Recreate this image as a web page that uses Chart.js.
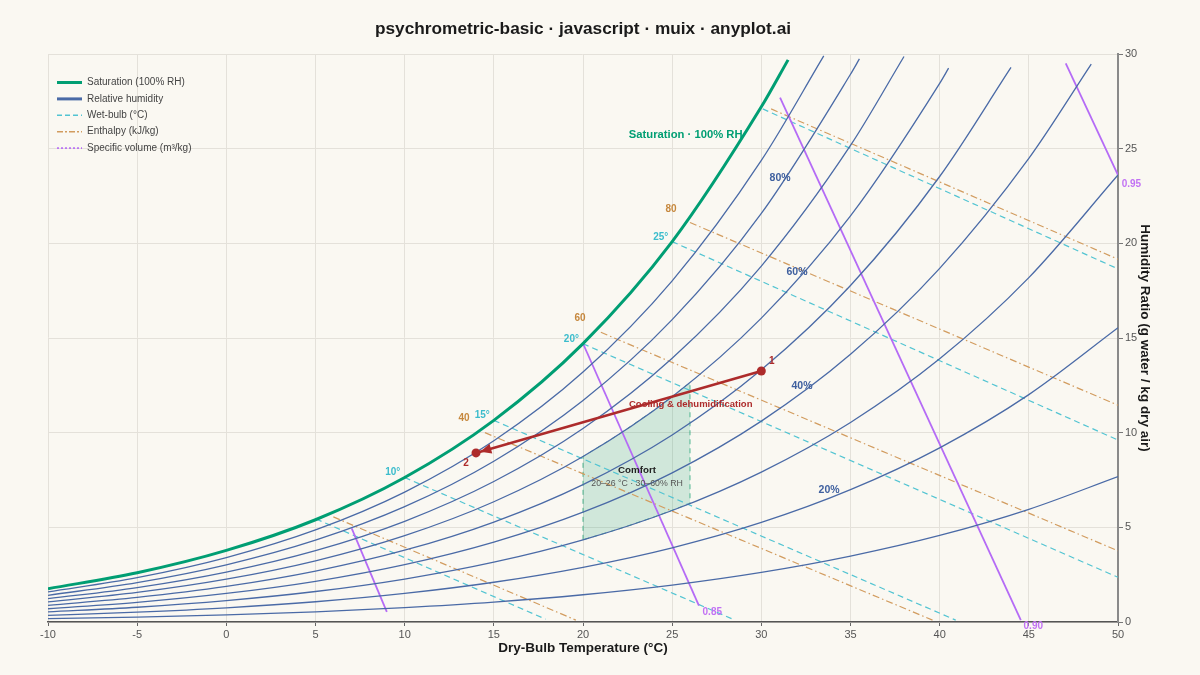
<!DOCTYPE html>
<html>
<head>
<meta charset="utf-8">
<title>psychrometric-basic</title>
<script src="https://cdn.jsdelivr.net/npm/chart.js@4.4.1/dist/chart.umd.min.js"></script>
<style>
  html, body { margin: 0; padding: 0; background: #faf8f2; }
  #wrap { width: 1200px; height: 675px; }
</style>
</head>
<body>
<div id="wrap"><canvas id="psyChart" width="1200" height="675"></canvas></div>
<script>
// dry-bulb (°C) vs humidity ratio (g/kg)
const satCurve = [[-10,1.76],[-5,2.60],[0,3.78],[5,5.40],[10,7.63],[15,10.65],[20,14.70],[25,20.09],[30,27.21],[31.5,29.69]];
const rh90 = [[-10,1.59],[-5,2.34],[0,3.40],[5,4.86],[10,6.86],[15,9.57],[20,13.20],[25,18.02],[30,24.38],[33.5,29.90]];
const rh80 = [[-10,1.41],[-5,2.08],[0,3.02],[5,4.32],[10,6.09],[15,8.49],[20,11.70],[25,15.97],[30,21.58],[35,28.93],[35.5,29.74]];
const rh70 = [[-10,1.23],[-5,1.82],[0,2.64],[5,3.77],[10,5.32],[15,7.42],[20,10.22],[25,13.93],[30,18.80],[35,25.17],[38,29.87]];
const rh60 = [[-10,1.06],[-5,1.56],[0,2.26],[5,3.23],[10,4.56],[15,6.35],[20,8.74],[25,11.90],[30,16.05],[35,21.45],[40,28.45],[40.5,29.25]];
const rh50 = [[-10,0.88],[-5,1.30],[0,1.88],[5,2.69],[10,3.79],[15,5.28],[20,7.26],[25,9.88],[30,13.32],[35,17.77],[40,23.53],[44,29.29]];
const rh40 = [[-10,0.70],[-5,1.04],[0,1.51],[5,2.15],[10,3.03],[15,4.22],[20,5.80],[25,7.88],[30,10.61],[35,14.14],[40,18.68],[45,24.49],[48.5,29.47]];
const rh30 = [[-10,0.53],[-5,0.78],[0,1.13],[5,1.61],[10,2.27],[15,3.16],[20,4.34],[25,5.89],[30,7.92],[35,10.54],[40,13.90],[45,18.19],[50,23.61]];
const rh20 = [[-10,0.35],[-5,0.52],[0,0.75],[5,1.07],[10,1.51],[15,2.10],[20,2.89],[25,3.92],[30,5.26],[35,6.99],[40,9.20],[45,12.01],[50,15.54]];
const rh10 = [[-10,0.18],[-5,0.26],[0,0.38],[5,0.54],[10,0.76],[15,1.05],[20,1.44],[25,1.95],[30,2.62],[35,3.48],[40,4.57],[45,5.95],[50,7.68]];

const wetBulbLines = [
  [[5.03,5.44],[17.9,0.15]],
  [[10,7.63],[28.4,0.15]],
  [[15,10.65],[40.9,0.1]],
  [[20,14.70],[50,2.36]],
  [[25,20.09],[50,9.61]],
  [[30.08,27.1],[50,18.65]]
];
const enthalpyLines = [
  [[6.0,5.55],[19.6,0.1]],
  [[14.5,10.0],[39.6,0.1]],
  [[21.0,15.3],[50,3.76]],
  [[26.0,21.1],[50,11.45]],
  [[30.55,27.1],[50,19.16]]
];
const volumeLines = [
  [[7.03,4.95],[9.0,0.54]],
  [[20.02,14.67],[26.5,0.86]],
  [[31.05,27.7],[44.55,0.1]],
  [[47.07,29.5],[50,23.6]]
];
const comfortZone = [[20,4.34],[20,8.74],[22,9.90],[24,11.20],[26,12.64],[26,6.26],[24,5.55],[22,4.91],[20,4.34]];
const processPts = [[30,13.26],[14,8.93]];

const xTicks = [-10, 50, 5];
const yTicks = [0, 30, 5];

const C = {
  bg: '#faf8f2',
  sat: '#009e73',
  rh: '#4a6aa6',
  wb: '#52c4d2',
  h: '#d29c5f',
  v: '#b56bf6',
  proc: '#ad2b2b',
  grid: '#e4e1da'
};
const FONT = "'Liberation Sans', Arial, Helvetica, sans-serif";
Chart.defaults.font.family = FONT;

// text annotations, placed in data units
const notes = [
  ['Saturation · 100% RH', 25.76, 25.71, C.sat, 'bold 11.25px'],
  ['80%', 31.05, 23.47, '#3f609f', 'bold 10.5px'],
  ['60%', 32.0, 18.49, '#3f609f', 'bold 10.5px'],
  ['40%', 32.28, 12.47, '#3f609f', 'bold 10.5px'],
  ['20%', 33.8, 6.97, '#3f609f', 'bold 10.5px'],
  ['10°', 9.33, 7.89, '#3bbccc', 'bold 10px'],
  ['15°', 14.35, 10.90, '#3bbccc', 'bold 10px'],
  ['20°', 19.35, 14.95, '#3bbccc', 'bold 10px'],
  ['25°', 24.36, 20.30, '#3bbccc', 'bold 10px'],
  ['40', 13.33, 10.74, '#c6883e', 'bold 10px'],
  ['60', 19.83, 16.02, '#c6883e', 'bold 10px'],
  ['80', 24.94, 21.78, '#c6883e', 'bold 10px'],
  ['0.85', 27.25, 0.50, '#c272f4', 'bold 10px'],
  ['0.90', 45.25, -0.25, '#c272f4', 'bold 10px'],
  ['0.95', 50.75, 23.12, '#c272f4', 'bold 10px'],
  ['1', 30.58, 13.75, C.proc, 'bold 10px'],
  ['2', 13.44, 8.38, C.proc, 'bold 10px'],
  ['Cooling & dehumidification', 26.04, 11.50, C.proc, 'bold 9.5px'],
  ['Comfort', 23.03, 7.99, '#222', 'bold 9.75px'],
  ['20–26 °C · 30–60% RH', 23.03, 7.33, '#555', '8.75px']
];

const legendRows = [
  ['Saturation (100% RH)', C.sat, 3, []],
  ['Relative humidity', C.rh, 3, []],
  ['Wet-bulb (°C)', C.wb, 1.6, [5, 3]],
  ['Enthalpy (kJ/kg)', C.h, 1.6, [6, 2, 2, 2]],
  ['Specific volume (m³/kg)', C.v, 1.6, [2, 2]]
];

const lineDs = (data, color, width, dash, extra) => Object.assign({
  data: data, borderColor: color, borderWidth: width, borderDash: dash || [],
  pointRadius: 0, fill: false, tension: 0
}, extra || {});

const datasets = [];
datasets.push({ data: processPts, showLine: false, pointRadius: 4.5, pointBackgroundColor: C.proc, pointBorderWidth: 0, borderColor: C.proc });
datasets.push(lineDs(processPts, C.proc, 2.5));
datasets.push(lineDs(satCurve, C.sat, 3, [], { cubicInterpolationMode: 'monotone' }));
[rh90, rh80, rh70, rh60, rh50, rh40, rh30, rh20, rh10].forEach(d =>
  datasets.push(lineDs(d, C.rh, 1.3, [], { cubicInterpolationMode: 'monotone' })));
volumeLines.forEach(d => datasets.push(lineDs(d, C.v, 1.8)));
enthalpyLines.forEach(d => datasets.push(lineDs(d, C.h, 1.2, [7, 3, 1.5, 3])));
wetBulbLines.forEach(d => datasets.push(lineDs(d, C.wb, 1.2, [6, 4])));
datasets.push(lineDs(comfortZone, 'rgba(0,150,100,0.65)', 1, [5, 4], { fill: 'shape', backgroundColor: 'rgba(0,150,100,0.17)' }));

const decor = {
  id: 'decor',
  beforeDraw(chart) {
    const ctx = chart.ctx;
    ctx.save();
    ctx.fillStyle = C.bg;
    ctx.fillRect(0, 0, chart.width, chart.height);
    ctx.restore();
  },
  afterDatasetsDraw(chart) {
    const ctx = chart.ctx, xs = chart.scales.x, ys = chart.scales.y, area = chart.chartArea;
    ctx.save();

    // arrow head pointing at state 2
    const p1 = { x: xs.getPixelForValue(processPts[0][0]), y: ys.getPixelForValue(processPts[0][1]) };
    const p2 = { x: xs.getPixelForValue(processPts[1][0]), y: ys.getPixelForValue(processPts[1][1]) };
    const len = Math.hypot(p2.x - p1.x, p2.y - p1.y);
    const ux = (p2.x - p1.x) / len, uy = (p2.y - p1.y) / len;
    const tip = { x: p2.x - ux * 4.5, y: p2.y - uy * 4.5 };
    const base = { x: tip.x - ux * 11, y: tip.y - uy * 11 };
    ctx.fillStyle = C.proc;
    ctx.beginPath();
    ctx.moveTo(tip.x, tip.y);
    ctx.lineTo(base.x - uy * 5, base.y + ux * 5);
    ctx.lineTo(base.x + uy * 5, base.y - ux * 5);
    ctx.closePath();
    ctx.fill();

    // labels on the chart
    ctx.textAlign = 'center';
    ctx.textBaseline = 'middle';
    notes.forEach(([txt, t, w, color, font]) => {
      ctx.font = font + ' ' + FONT;
      ctx.fillStyle = color;
      ctx.fillText(txt, xs.getPixelForValue(t), ys.getPixelForValue(w));
    });

    // legend, top-left inside the plot
    let y = 82.5;
    legendRows.forEach(([txt, color, lw, dash]) => {
      ctx.strokeStyle = color;
      ctx.lineWidth = lw;
      ctx.setLineDash(dash);
      ctx.beginPath();
      ctx.moveTo(area.left + 9, y);
      ctx.lineTo(area.left + 34, y);
      ctx.stroke();
      ctx.setLineDash([]);
      ctx.font = '10px ' + FONT;
      ctx.fillStyle = '#444';
      ctx.textAlign = 'left';
      ctx.fillText(txt, area.left + 39, y);
      y += 16.4;
    });

    // title, centred over the plot area
    ctx.font = 'bold 17.25px ' + FONT;
    ctx.fillStyle = '#1a1a1a';
    ctx.textAlign = 'center';
    ctx.fillText('psychrometric-basic · javascript · muix · anyplot.ai', (area.left + area.right) / 2, 29);
    ctx.restore();
  }
};

new Chart(document.getElementById('psyChart'), {
  type: 'line',
  data: { datasets: datasets },
  options: {
    responsive: false,
    animation: false,
    layout: { padding: { left: 48, top: 54, right: 0, bottom: 0 } },
    plugins: { legend: { display: false }, tooltip: { enabled: false }, title: { display: false } },
    scales: {
      x: {
        type: 'linear',
        min: xTicks[0], max: xTicks[1],
        ticks: { stepSize: xTicks[2], color: '#555', font: { size: 11 }, padding: 2 },
        grid: { color: C.grid, tickColor: '#666', tickLength: 4 },
        border: { color: '#555', width: 1.5 },
        title: { display: true, text: 'Dry-Bulb Temperature (°C)', color: '#1a1a1a', font: { size: 13.5, weight: 'bold' }, padding: { top: 0, bottom: 19 } },
        afterFit(s) { s.height = 53; }
      },
      y: {
        type: 'linear',
        position: 'right',
        min: yTicks[0], max: yTicks[1],
        ticks: { stepSize: yTicks[2], color: '#555', font: { size: 11 }, padding: 2 },
        grid: { color: C.grid, tickColor: '#777', tickLength: 5 },
        border: { color: '#8a8a8a', width: 2 },
        title: { display: true, text: 'Humidity Ratio (g water / kg dry air)', color: '#1a1a1a', font: { size: 13.5, weight: 'bold' }, padding: { top: 47, bottom: 0 } },
        afterFit(s) { s.width = 82; }
      }
    }
  },
  plugins: [decor]
});
</script>
</body>
</html>
